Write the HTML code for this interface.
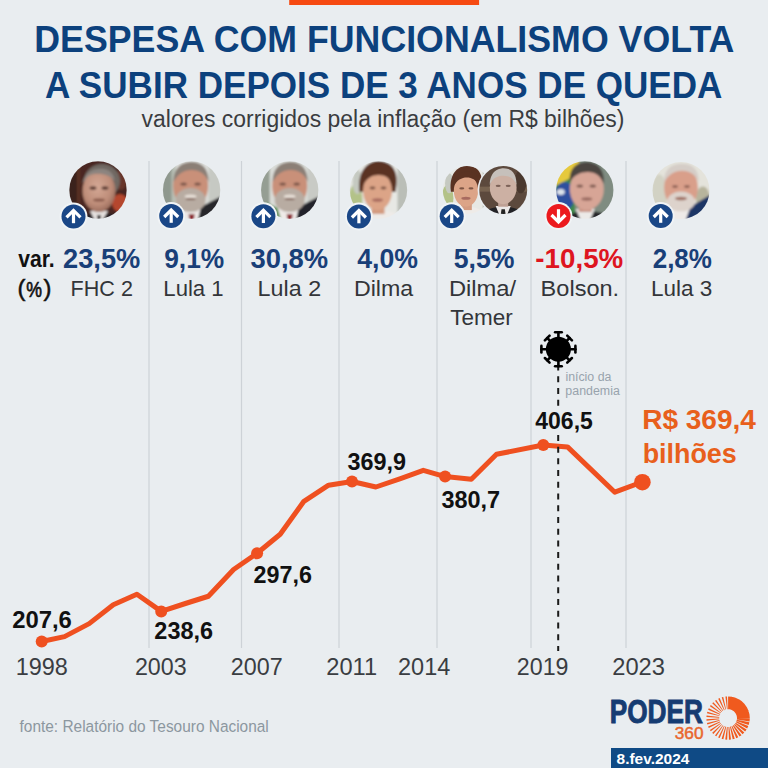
<!DOCTYPE html>
<html lang="pt-BR">
<head>
<meta charset="utf-8">
<title>Despesa com funcionalismo volta a subir depois de 3 anos de queda</title>
<style>
html,body{margin:0;padding:0;}
body{width:768px;height:768px;overflow:hidden;background:#E9EDF0;position:relative;}
svg{position:absolute;left:0;top:0;display:block;}
</style>
</head>
<body>
<svg width="768" height="768" viewBox="0 0 768 768" font-family="'Liberation Sans', Arial, sans-serif">
<rect x="0" y="0" width="768" height="768" fill="#E9EDF0"/>
<rect x="289.2" y="0" width="189.9" height="5" fill="#F64A12"/>
<filter id="soft" x="-10%" y="-10%" width="120%" height="120%"><feGaussianBlur stdDeviation="0.9"/></filter>
<radialGradient id="skF" cx="0.45" cy="0.4" r="0.6"><stop offset="0" stop-color="#D4A895"/><stop offset="0.7" stop-color="#BE8D79"/><stop offset="1" stop-color="#9C6E5E"/></radialGradient>
<clipPath id="p1"><circle cx="0" cy="0" r="28.7"/></clipPath><g transform="translate(98,190) scale(1.0000)"><g clip-path="url(#p1)" filter="url(#soft)"><rect x="-30" y="-30" width="60" height="60" fill="#4A2820"/>
<rect x="-30" y="-30" width="10" height="60" fill="#3A201B"/>
<rect x="-21" y="-30" width="3" height="60" fill="#5A3024"/>
<ellipse cx="22" cy="13" rx="8" ry="9" fill="#B5462D"/>
<ellipse cx="23" cy="-10" rx="6" ry="10" fill="#683629"/>
<ellipse cx="3" cy="37" rx="30" ry="14" fill="#272126"/>
<polygon points="-8,21 10,21 4,31 -3,31" fill="#E4E0DE"/>
<polygon points="-1,25 3,25 2,31 0,31" fill="#221E22"/>
<ellipse cx="4" cy="-9" rx="18" ry="17" fill="#6F6762"/>
<ellipse cx="1" cy="1" rx="16.5" ry="21" fill="url(#skF)"/>
<path d="M-16,-5 C-14,-18 -4,-22 6,-21 C12,-20 16,-16 17,-9 C12,-15 4,-17 -4,-16 C-10,-15 -14,-11 -16,-5Z" fill="#8C847F"/>
<ellipse cx="-5" cy="-2" rx="3.5" ry="1.8" fill="#5E3E36"/>
<ellipse cx="7" cy="-2" rx="3.5" ry="1.8" fill="#5E3E36"/>
<ellipse cx="1" cy="10" rx="6" ry="1.6" fill="#8A5A4C"/></g></g>
<clipPath id="p2"><circle cx="0" cy="0" r="28.7"/></clipPath><g transform="translate(191.6,190) scale(1.0000)"><g clip-path="url(#p2)" filter="url(#soft)"><rect x="-30" y="-30" width="60" height="60" fill="#DCDDD9"/>
<rect x="-30" y="-30" width="12" height="60" fill="#8F988E"/>
<rect x="-20" y="-30" width="4" height="60" fill="#B7BEB4"/>
<rect x="17" y="-30" width="13" height="60" fill="#C6C9C3"/>
<polygon points="7,18 30,6 30,32 3,32" fill="#25252A"/>
<polygon points="-12,20 9,18 6,32 -12,32" fill="#EEEAE8"/>
<polygon points="-3,24 3,24 2,32 -2,32" fill="#8E2B33"/>
<ellipse cx="-1" cy="-4" rx="17.5" ry="22" fill="#C99079"/>
<path d="M-18,-8 C-18,-24 -8,-28 0,-28 C10,-28 17,-22 17,-8 C14,-16 8,-20 0,-20 C-8,-20 -14,-16 -18,-8Z" fill="#8B7F76"/>
<ellipse cx="-1" cy="10" rx="15" ry="12" fill="#B8ACA2"/>
<ellipse cx="-1" cy="6.5" rx="6" ry="2" fill="#E6DED6"/><ellipse cx="-1" cy="9" rx="5" ry="1" fill="#7A5A50"/>
<ellipse cx="-8" cy="-6" rx="3.2" ry="1.5" fill="#7A5548"/>
<ellipse cx="6" cy="-6" rx="3.2" ry="1.5" fill="#7A5548"/></g></g>
<clipPath id="p3"><circle cx="0" cy="0" r="28.7"/></clipPath><g transform="translate(289.7,190) scale(1.0000)"><g clip-path="url(#p3)" filter="url(#soft)"><rect x="-30" y="-30" width="60" height="60" fill="#D9DBD7"/>
<rect x="-30" y="-30" width="10" height="60" fill="#959E93"/>
<rect x="18" y="-30" width="12" height="60" fill="#C8CAC5"/>
<polygon points="7,18 30,6 30,32 3,32" fill="#23232A"/>
<polygon points="-14,18 9,18 6,32 -14,32" fill="#EEEAE8"/>
<polygon points="-24,12 -12,18 -8,32 -24,32" fill="#5E8E55"/>
<polygon points="-3,24 3,24 2,32 -2,32" fill="#8E2B33"/>
<ellipse cx="0" cy="-4" rx="17.5" ry="22" fill="#C99079"/>
<path d="M-17,-8 C-17,-24 -7,-28 1,-28 C11,-28 18,-22 18,-8 C15,-16 9,-20 1,-20 C-7,-20 -13,-16 -17,-8Z" fill="#8B7F76"/>
<ellipse cx="0" cy="10" rx="15" ry="12" fill="#B8ACA2"/>
<ellipse cx="0" cy="6.5" rx="6" ry="2" fill="#E6DED6"/><ellipse cx="0" cy="9" rx="5" ry="1" fill="#7A5A50"/>
<ellipse cx="-7" cy="-6" rx="3.2" ry="1.5" fill="#7A5548"/>
<ellipse cx="7" cy="-6" rx="3.2" ry="1.5" fill="#7A5548"/></g></g>
<clipPath id="p4"><circle cx="0" cy="0" r="28.7"/></clipPath><g transform="translate(378.5,190) scale(1.0000)"><g clip-path="url(#p4)" filter="url(#soft)"><rect x="-30" y="-30" width="60" height="60" fill="#E7E8E4"/>
<ellipse cx="-23" cy="10" rx="7" ry="16" fill="#B3C288"/>
<ellipse cx="-21" cy="-8" rx="5" ry="12" fill="#C5C9C1"/>
<rect x="19" y="-30" width="11" height="60" fill="#BABEB7"/>
<ellipse cx="0" cy="34" rx="24" ry="14" fill="#EEEBE8"/>
<rect x="-7" y="10" width="13" height="14" fill="#D39B80"/>
<path d="M-19,2 C-22,-24 -6,-30 1,-29 C16,-28 21,-16 17,2 Z" fill="#5A3224"/>
<ellipse cx="-1" cy="1" rx="14.5" ry="19" fill="#DCA487"/>
<path d="M-16,-4 C-16,-18 -6,-22 2,-22 C10,-22 16,-16 16,-4 C12,-12 6,-15 0,-15 C-6,-15 -12,-12 -16,-4Z" fill="#5A3224"/>
<ellipse cx="-6" cy="-2" rx="3" ry="1.4" fill="#7E5544"/>
<ellipse cx="5" cy="-2" rx="3" ry="1.4" fill="#7E5544"/>
<ellipse cx="-1" cy="10" rx="5.5" ry="1.8" fill="#A86A5E"/></g></g>
<clipPath id="p5"><circle cx="0" cy="0" r="28.7"/></clipPath><g transform="translate(466.8,190) scale(0.8362)"><g clip-path="url(#p5)" filter="url(#soft)"><rect x="-30" y="-30" width="60" height="60" fill="#E7E8E4"/>
<ellipse cx="-23" cy="10" rx="7" ry="16" fill="#B3C288"/>
<ellipse cx="-21" cy="-8" rx="5" ry="12" fill="#C5C9C1"/>
<rect x="19" y="-30" width="11" height="60" fill="#BABEB7"/>
<ellipse cx="0" cy="34" rx="24" ry="14" fill="#EEEBE8"/>
<rect x="-7" y="10" width="13" height="14" fill="#D39B80"/>
<path d="M-19,2 C-22,-24 -6,-30 1,-29 C16,-28 21,-16 17,2 Z" fill="#5A3224"/>
<ellipse cx="-1" cy="1" rx="14.5" ry="19" fill="#DCA487"/>
<path d="M-16,-4 C-16,-18 -6,-22 2,-22 C10,-22 16,-16 16,-4 C12,-12 6,-15 0,-15 C-6,-15 -12,-12 -16,-4Z" fill="#5A3224"/>
<ellipse cx="-6" cy="-2" rx="3" ry="1.4" fill="#7E5544"/>
<ellipse cx="5" cy="-2" rx="3" ry="1.4" fill="#7E5544"/>
<ellipse cx="-1" cy="10" rx="5.5" ry="1.8" fill="#A86A5E"/></g></g>
<circle cx="503.2" cy="190" r="25.6" fill="#E9EDF0"/><clipPath id="p6"><circle cx="0" cy="0" r="28.7"/></clipPath><g transform="translate(503.2,190) scale(0.8362)"><g clip-path="url(#p6)" filter="url(#soft)"><rect x="-30" y="-30" width="60" height="60" fill="#5C483C"/>
<rect x="-30" y="-4" width="60" height="6" fill="#76624F"/>
<ellipse cx="21" cy="-10" rx="7" ry="14" fill="#4A382E"/>
<ellipse cx="0" cy="35" rx="30" ry="15" fill="#202025"/>
<polygon points="-9,19 9,19 4,31 -4,31" fill="#ECE9E8"/>
<polygon points="-2,23 2,23 3,30 -3,30" fill="#222"/>
<rect x="-6" y="8" width="12" height="12" fill="#BFA195"/>
<ellipse cx="0" cy="-3" rx="16" ry="20" fill="#CCB0A3"/>
<path d="M-16,-6 C-16,-22 -6,-26 0,-26 C8,-26 16,-22 16,-6 C13,-14 7,-17 0,-17 C-7,-17 -13,-14 -16,-6Z" fill="#C6C0BB"/>
<ellipse cx="-6" cy="-5" rx="3" ry="1.4" fill="#7D6258"/>
<ellipse cx="6" cy="-5" rx="3" ry="1.4" fill="#7D6258"/></g></g>
<clipPath id="p7"><circle cx="0" cy="0" r="28.7"/></clipPath><g transform="translate(584.8,190) scale(1.0000)"><g clip-path="url(#p7)" filter="url(#soft)"><rect x="-30" y="-30" width="60" height="60" fill="#7F8C81"/>
<rect x="-30" y="-30" width="20" height="60" fill="#3D8A48"/>
<polygon points="-30,-30 -6,-30 -6,-16 -30,-4" fill="#E6C93C"/>
<ellipse cx="-20" cy="6" rx="10" ry="14" fill="#2F4F9F"/>
<ellipse cx="-24" cy="2" rx="4" ry="3" fill="#DDE3EA"/>
<ellipse cx="3" cy="36" rx="30" ry="15" fill="#25272C"/>
<polygon points="-9,19 10,19 5,31 -4,31" fill="#ECEAE8"/>
<rect x="-6" y="10" width="13" height="12" fill="#C99485"/>
<ellipse cx="2" cy="-1" rx="17" ry="21" fill="#D7A596"/>
<path d="M-15,-8 C-16,-24 -6,-28 3,-28 C14,-27 20,-20 19,-6 C16,-14 11,-18 3,-18 C-4,-18 -11,-15 -15,-8Z" fill="#4B4541"/>
<ellipse cx="-5" cy="-4" rx="3.2" ry="1.5" fill="#7E5A50"/>
<ellipse cx="8" cy="-4" rx="3.2" ry="1.5" fill="#7E5A50"/>
<ellipse cx="2" cy="9" rx="5.5" ry="1.7" fill="#9A6A60"/></g></g>
<clipPath id="p8"><circle cx="0" cy="0" r="28.7"/></clipPath><g transform="translate(681,190.5) scale(0.9930)"><g clip-path="url(#p8)" filter="url(#soft)"><rect x="-30" y="-30" width="60" height="60" fill="#E4E3DB"/>
<ellipse cx="-22" cy="4" rx="8" ry="20" fill="#D2D2C4"/>
<ellipse cx="22" cy="8" rx="7" ry="12" fill="#B7B49C"/>
<polygon points="7,18 30,4 30,32 2,32" fill="#1F3465"/>
<polygon points="-14,20 9,18 4,32 -14,32" fill="#EEEAE8"/>
<ellipse cx="0" cy="-3" rx="17" ry="22" fill="#D99F8A"/>
<path d="M-17,-8 C-17,-24 -7,-27 1,-27 C11,-27 18,-22 18,-8 C15,-16 9,-20 1,-20 C-7,-20 -13,-16 -17,-8Z" fill="#D5CDC7"/>
<ellipse cx="0" cy="11" rx="14" ry="10" fill="#DDD3CC"/>
<ellipse cx="0" cy="8" rx="6" ry="1.8" fill="#9F6F62"/>
<ellipse cx="-6" cy="-4" rx="3" ry="1.4" fill="#8A5E52"/>
<ellipse cx="6" cy="-4" rx="3" ry="1.4" fill="#8A5E52"/></g></g>
<circle cx="73.5" cy="216.4" r="13.9" fill="#F1F4F6"/><circle cx="73.5" cy="216.4" r="12" fill="#1A4787"/><g transform="translate(73.5,216.4)" fill="none" stroke="#fff" stroke-width="3.2"><polyline points="-7,1 0,-6 7,1" stroke-linejoin="miter"/><line x1="0" y1="-5.5" x2="0" y2="6.8"/></g>
<circle cx="171.2" cy="216" r="13.9" fill="#F1F4F6"/><circle cx="171.2" cy="216" r="12" fill="#1A4787"/><g transform="translate(171.2,216)" fill="none" stroke="#fff" stroke-width="3.2"><polyline points="-7,1 0,-6 7,1" stroke-linejoin="miter"/><line x1="0" y1="-5.5" x2="0" y2="6.8"/></g>
<circle cx="263.4" cy="216.2" r="13.9" fill="#F1F4F6"/><circle cx="263.4" cy="216.2" r="12" fill="#1A4787"/><g transform="translate(263.4,216.2)" fill="none" stroke="#fff" stroke-width="3.2"><polyline points="-7,1 0,-6 7,1" stroke-linejoin="miter"/><line x1="0" y1="-5.5" x2="0" y2="6.8"/></g>
<circle cx="358.9" cy="216.5" r="13.9" fill="#F1F4F6"/><circle cx="358.9" cy="216.5" r="12" fill="#1A4787"/><g transform="translate(358.9,216.5)" fill="none" stroke="#fff" stroke-width="3.2"><polyline points="-7,1 0,-6 7,1" stroke-linejoin="miter"/><line x1="0" y1="-5.5" x2="0" y2="6.8"/></g>
<circle cx="451.7" cy="216.2" r="13.9" fill="#F1F4F6"/><circle cx="451.7" cy="216.2" r="12" fill="#1A4787"/><g transform="translate(451.7,216.2)" fill="none" stroke="#fff" stroke-width="3.2"><polyline points="-7,1 0,-6 7,1" stroke-linejoin="miter"/><line x1="0" y1="-5.5" x2="0" y2="6.8"/></g>
<circle cx="558.5" cy="216" r="13.9" fill="#F1F4F6"/><circle cx="558.5" cy="216" r="12" fill="#EC1A1E"/><g transform="translate(558.5,216)" fill="none" stroke="#fff" stroke-width="3.2"><polyline points="-7,-1 0,6 7,-1" stroke-linejoin="miter"/><line x1="0" y1="5.5" x2="0" y2="-6.8"/></g>
<circle cx="660.7" cy="216" r="13.9" fill="#F1F4F6"/><circle cx="660.7" cy="216" r="12" fill="#1A4787"/><g transform="translate(660.7,216)" fill="none" stroke="#fff" stroke-width="3.2"><polyline points="-7,1 0,-6 7,1" stroke-linejoin="miter"/><line x1="0" y1="-5.5" x2="0" y2="6.8"/></g>
<text x="34.28" y="51.5" font-size="36" font-weight="bold" fill="#0C417D" textLength="700.13" lengthAdjust="spacingAndGlyphs">DESPESA COM FUNCIONALISMO VOLTA</text>
<text x="45.12" y="97.5" font-size="36" font-weight="bold" fill="#0C417D" textLength="677.27" lengthAdjust="spacingAndGlyphs">A SUBIR DEPOIS DE 3 ANOS DE QUEDA</text>
<text x="141.59" y="127.3" font-size="23" fill="#3A3C40" textLength="482.81" lengthAdjust="spacingAndGlyphs">valores corrigidos pela inflação (em R$ bilhões)</text>
<text x="18.29" y="267.3" font-size="24" font-weight="bold" fill="#111111" textLength="36.47" lengthAdjust="spacingAndGlyphs">var.</text>
<text x="17.47" y="296" font-size="24" fill="#111111" textLength="7.92" lengthAdjust="spacingAndGlyphs" stroke="#111111" stroke-width="0.5">(</text>
<text x="26.18" y="296.7" font-size="22" fill="#111111" textLength="15.72" lengthAdjust="spacingAndGlyphs" stroke="#111111" stroke-width="0.7">%</text>
<text x="43.46" y="296" font-size="24" fill="#111111" textLength="7.94" lengthAdjust="spacingAndGlyphs" stroke="#111111" stroke-width="0.5">)</text>
<text x="63.05" y="267.8" font-size="27" font-weight="bold" fill="#193F78" textLength="77.25" lengthAdjust="spacingAndGlyphs">23,5%</text>
<text x="164.18" y="267.8" font-size="27" font-weight="bold" fill="#193F78" textLength="60.06" lengthAdjust="spacingAndGlyphs">9,1%</text>
<text x="250.52" y="267.8" font-size="27" font-weight="bold" fill="#193F78" textLength="77.68" lengthAdjust="spacingAndGlyphs">30,8%</text>
<text x="357.30" y="267.8" font-size="27" font-weight="bold" fill="#193F78" textLength="60.75" lengthAdjust="spacingAndGlyphs">4,0%</text>
<text x="453.70" y="267.8" font-size="27" font-weight="bold" fill="#193F78" textLength="60.75" lengthAdjust="spacingAndGlyphs">5,5%</text>
<text x="652.69" y="267.8" font-size="27" font-weight="bold" fill="#193F78" textLength="59.24" lengthAdjust="spacingAndGlyphs">2,8%</text>
<text x="535.39" y="267.8" font-size="27" font-weight="bold" fill="#DE1520" textLength="87.86" lengthAdjust="spacingAndGlyphs">-10,5%</text>
<text x="70.58" y="296" font-size="21.6" fill="#333539" textLength="62.29" lengthAdjust="spacingAndGlyphs">FHC 2</text>
<text x="163.33" y="296" font-size="21.6" fill="#333539" textLength="60.27" lengthAdjust="spacingAndGlyphs">Lula 1</text>
<text x="257.63" y="296" font-size="21.6" fill="#333539" textLength="63.52" lengthAdjust="spacingAndGlyphs">Lula 2</text>
<text x="353.94" y="296" font-size="21.6" fill="#333539" textLength="59.27" lengthAdjust="spacingAndGlyphs">Dilma</text>
<text x="448.90" y="296" font-size="21.6" fill="#333539" textLength="67.28" lengthAdjust="spacingAndGlyphs">Dilma/</text>
<text x="450.24" y="324.9" font-size="21.6" fill="#333539" textLength="62.48" lengthAdjust="spacingAndGlyphs">Temer</text>
<text x="540.62" y="296" font-size="21.6" fill="#333539" textLength="78.51" lengthAdjust="spacingAndGlyphs">Bolson.</text>
<text x="651.00" y="296" font-size="21.6" fill="#333539" textLength="61.31" lengthAdjust="spacingAndGlyphs">Lula 3</text>
<g stroke="#CDD2D7" stroke-width="1.2"><line x1="149" y1="161" x2="149" y2="648"/><line x1="241.5" y1="161" x2="241.5" y2="648"/><line x1="339" y1="161" x2="339" y2="648"/><line x1="437" y1="161" x2="437" y2="648"/><line x1="531" y1="161" x2="531" y2="648"/><line x1="626" y1="161" x2="626" y2="648"/></g>
<polyline fill="none" stroke="#EF5020" stroke-width="5" stroke-linejoin="round" stroke-linecap="round" points="41.7,641.5 64.5,636.6 89.2,623.6 113.3,604.7 136.9,594.2 161.25,611.4 185.4,603.5 208.4,596.25 233.6,569.5 257.1,553.3 280.2,534.3 303.9,501.3 328.6,485.2 352,481.5 375.9,487 400.5,478.6 423.3,470.3 445.1,476.6 471.3,479.3 496.5,454.3 543.3,445 567.5,446.9 614.8,492.2 642.2,482"/>
<g fill="#EF5020"><circle cx="41.7" cy="641.5" r="6"/><circle cx="161.25" cy="611.4" r="6"/><circle cx="257.1" cy="553.3" r="6"/><circle cx="352" cy="481.5" r="6"/><circle cx="445.1" cy="476.6" r="6"/><circle cx="543.3" cy="445" r="6"/><circle cx="642.4" cy="482.2" r="8.3"/></g>
<line x1="558.2" y1="364.6" x2="558.2" y2="651" stroke="#1A1A1A" stroke-width="2" stroke-dasharray="6 5.72"/>
<text x="12.16" y="627.7" font-size="23.3" font-weight="bold" fill="#111111" textLength="59.73" lengthAdjust="spacingAndGlyphs">207,6</text>
<text x="154.38" y="638.9" font-size="23.3" font-weight="bold" fill="#111111" textLength="58.70" lengthAdjust="spacingAndGlyphs">238,6</text>
<text x="253.58" y="582.7" font-size="23.3" font-weight="bold" fill="#111111" textLength="58.39" lengthAdjust="spacingAndGlyphs">297,6</text>
<text x="347.51" y="469.5" font-size="23.3" font-weight="bold" fill="#111111" textLength="58.56" lengthAdjust="spacingAndGlyphs">369,9</text>
<text x="441.41" y="508.4" font-size="23.3" font-weight="bold" fill="#111111" textLength="58.70" lengthAdjust="spacingAndGlyphs">380,7</text>
<rect x="533" y="409" width="62" height="24" fill="#E9EDF0"/>
<text x="535.25" y="429.4" font-size="23.3" font-weight="bold" fill="#111111" textLength="57.58" lengthAdjust="spacingAndGlyphs">406,5</text>
<text x="642.18" y="429.1" font-size="27" font-weight="bold" fill="#E8601C" textLength="113.72" lengthAdjust="spacingAndGlyphs">R$ 369,4</text>
<text x="642.65" y="463.3" font-size="27" font-weight="bold" fill="#E8601C" textLength="94.14" lengthAdjust="spacingAndGlyphs">bilhões</text>
<text x="565.40" y="381" font-size="12" fill="#98A3AD" textLength="46.00" lengthAdjust="spacingAndGlyphs">início da</text>
<text x="565.39" y="395.3" font-size="12" fill="#98A3AD" textLength="54.43" lengthAdjust="spacingAndGlyphs">pandemia</text>
<g transform="translate(558.4,349.2)" fill="#000" stroke="#000"><circle r="12.5" stroke="none"/><g stroke-width="2.6" stroke-linecap="round"><g transform="rotate(0)"><line x1="0" y1="-11" x2="0" y2="-17"/><line x1="-3.3" y1="-17" x2="3.3" y2="-17"/></g><g transform="rotate(45)"><line x1="0" y1="-11" x2="0" y2="-15.8"/><line x1="-3.3" y1="-15.8" x2="3.3" y2="-15.8"/></g><g transform="rotate(90)"><line x1="0" y1="-11" x2="0" y2="-17"/><line x1="-3.3" y1="-17" x2="3.3" y2="-17"/></g><g transform="rotate(135)"><line x1="0" y1="-11" x2="0" y2="-15.8"/><line x1="-3.3" y1="-15.8" x2="3.3" y2="-15.8"/></g><g transform="rotate(180)"><line x1="0" y1="-11" x2="0" y2="-17"/><line x1="-3.3" y1="-17" x2="3.3" y2="-17"/></g><g transform="rotate(225)"><line x1="0" y1="-11" x2="0" y2="-15.8"/><line x1="-3.3" y1="-15.8" x2="3.3" y2="-15.8"/></g><g transform="rotate(270)"><line x1="0" y1="-11" x2="0" y2="-17"/><line x1="-3.3" y1="-17" x2="3.3" y2="-17"/></g><g transform="rotate(315)"><line x1="0" y1="-11" x2="0" y2="-15.8"/><line x1="-3.3" y1="-15.8" x2="3.3" y2="-15.8"/></g></g></g>
<text x="15.74" y="675" font-size="23" fill="#3A3D42" textLength="52.19" lengthAdjust="spacingAndGlyphs">1998</text>
<text x="134.94" y="675" font-size="23" fill="#3A3D42" textLength="51.70" lengthAdjust="spacingAndGlyphs">2003</text>
<text x="230.84" y="675" font-size="23" fill="#3A3D42" textLength="51.82" lengthAdjust="spacingAndGlyphs">2007</text>
<text x="326.22" y="675" font-size="23" fill="#3A3D42" textLength="50.88" lengthAdjust="spacingAndGlyphs">2011</text>
<text x="398.03" y="675" font-size="23" fill="#3A3D42" textLength="52.27" lengthAdjust="spacingAndGlyphs">2014</text>
<text x="516.84" y="675" font-size="23" fill="#3A3D42" textLength="51.60" lengthAdjust="spacingAndGlyphs">2019</text>
<text x="612.21" y="675" font-size="23" fill="#3A3D42" textLength="52.74" lengthAdjust="spacingAndGlyphs">2023</text>
<text x="19.57" y="731.6" font-size="16.7" fill="#8C979F" textLength="249.19" lengthAdjust="spacingAndGlyphs">fonte: Relatório do Tesouro Nacional</text>
<text x="609.70" y="722.8" font-size="32.5" font-weight="bold" fill="#163C72" textLength="93.26" lengthAdjust="spacingAndGlyphs" stroke="#163C72" stroke-width="0.9">PODER</text>
<text x="674.81" y="738.6" font-size="16" fill="#E8672E" textLength="28.74" lengthAdjust="spacingAndGlyphs" stroke="#E8672E" stroke-width="0.45">360</text>
<rect x="611" y="748" width="157" height="20" fill="#0F4A85"/>
<text x="616.54" y="763.9" font-size="15.5" font-weight="bold" fill="#FFFFFF" textLength="72.88" lengthAdjust="spacingAndGlyphs">8.fev.2024</text>
<path d="M728.10,709.20 L728.10,696.40 L732.08,696.77 L729.73,709.35Z M729.65,709.34 L731.87,696.73 L735.73,697.78 L731.23,709.77Z M731.14,709.74 L735.52,697.71 L739.14,699.42 L732.63,710.44Z M732.55,710.39 L738.95,699.31 L742.21,701.62 L733.89,711.34Z M733.82,711.28 L742.05,701.48 L744.86,704.32 L734.97,712.45Z M734.92,712.38 L744.72,704.15 L747.00,707.44 L735.85,713.73Z M735.81,713.65 L746.89,707.25 L748.56,710.88 L736.49,715.14Z M736.46,715.06 L748.49,710.68 L749.51,714.55 L736.88,716.64Z M736.86,716.55 L749.47,714.33 L749.80,718.32 L737.00,718.19Z M737.00,718.29 L749.80,718.55 L749.54,721.42 L736.90,719.46Z M736.83,719.85 L749.38,722.37 L748.66,725.04 L736.53,720.95Z M736.38,721.36 L748.29,726.05 L747.17,728.46 L735.92,722.35Z M735.68,722.77 L746.58,729.48 L745.11,731.57 L735.08,723.63Z M734.74,724.03 L744.29,732.55 L742.55,734.29 L734.03,724.74Z M733.59,725.10 L741.49,735.18 L739.57,736.52 L732.80,725.66Z M732.27,725.96 L738.27,737.27 L736.24,738.21 L731.44,726.35Z M730.82,726.57 L734.74,738.76 L732.68,739.31 L729.98,726.80Z M729.29,726.92 L731.00,739.61 L728.98,739.78 L728.46,726.99Z M727.72,726.99 L727.17,739.78 L725.25,739.61 L726.93,726.92Z M726.16,726.79 L723.37,739.28 L721.61,738.81 L725.44,726.59Z M724.66,726.31 L719.71,738.11 L718.16,737.39 L724.02,726.01Z M723.27,725.57 L716.32,736.32 L715.00,735.40 L722.73,725.20Z M722.04,724.62 L713.33,734.00 L712.20,732.87 L721.58,724.16Z M721.00,723.47 L710.79,731.19 L709.88,729.89 L720.63,722.93Z M720.18,722.15 L708.78,727.99 L708.11,726.54 L719.90,721.56Z M719.59,720.72 L707.36,724.48 L706.95,722.94 L719.42,720.09Z M719.27,719.20 L706.57,720.78 L706.43,719.20 L719.21,718.55Z M719.21,717.65 L706.43,717.00 L706.57,715.42 L719.27,717.00Z M719.42,716.11 L706.95,713.26 L707.36,711.72 L719.59,715.48Z M719.90,714.64 L708.11,709.66 L708.78,708.21 L720.18,714.05Z M720.63,713.27 L709.88,706.31 L710.79,705.01 L721.00,712.73Z M721.58,712.04 L712.20,703.33 L713.33,702.20 L722.04,711.58Z M722.73,711.00 L715.01,700.79 L716.31,699.88 L723.27,710.63Z M724.05,710.18 L718.21,698.78 L719.66,698.11 L724.64,709.90Z M725.48,709.59 L721.72,697.36 L723.26,696.95 L726.11,709.42Z M727.00,709.27 L725.42,696.57 L727.00,696.43 L727.65,709.21Z" fill="#F05A1E"/>
</svg>
</body>
</html>
